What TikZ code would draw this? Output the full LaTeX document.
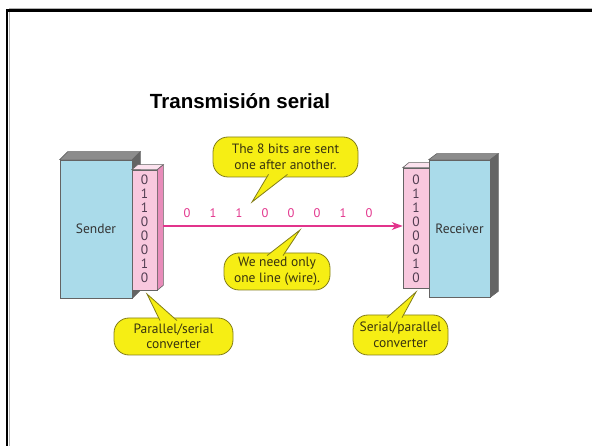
\documentclass[tikz,border=0pt]{standalone}
\usepackage{fontspec}
\setsansfont{PT Sans}
\newfontfamily\titlefont{Liberation Sans}
\usetikzlibrary{arrows.meta,calc}

\definecolor{boxblue}{RGB}{170,219,234}
\definecolor{shadegray}{RGB}{140,140,140}
\definecolor{sidegray}{RGB}{100,100,100}
\definecolor{convpink}{RGB}{248,200,222}
\definecolor{convside}{RGB}{232,140,186}
\definecolor{convtop}{RGB}{252,226,238}
\definecolor{wirepink}{RGB}{226,52,140}
\definecolor{noteyellow}{RGB}{246,238,20}
\definecolor{noteedge}{RGB}{130,125,25}
\definecolor{notetext}{RGB}{55,50,15}
\definecolor{digitgray}{RGB}{80,60,80}

\tikzset{
  unit/.style={fill=boxblue, draw=sidegray, line width=0.6pt, inner sep=0pt,
    font=\sffamily\fontsize{13.5}{15}\selectfont, text=black!80},
  conv/.style={fill=convpink, draw=sidegray, line width=0.6pt, inner sep=0pt,
    minimum height=120pt},
  note/.style={fill=noteyellow, draw=noteedge, line width=0.8pt, rounded corners=15pt,
    align=center, inner sep=0pt, text=notetext, font=\sffamily\fontsize{13.5}{15.5}\selectfont},
  tail/.style={draw=noteedge, line width=0.8pt},
  bit/.style={text=digitgray, font=\sffamily\fontsize{13.5}{13.5}\selectfont, inner sep=0pt},
  wirebit/.style={text=wirepink, font=\sffamily\fontsize{12.5}{12.5}\selectfont, inner sep=0pt},
}

\begin{document}
\begin{tikzpicture}[x=1pt,y=-1pt]
  \useasboundingbox (0,0) rectangle (592,446);

  % slide frame
  \draw[gray!60, line width=0.8pt] (9.3,460) -- (9.3,8) -- (600,8);
  \draw[line width=2.4pt] (7,460) -- (7,10.5) -- (600,10.5);

  \node (title) at (240,101) {\titlefont\bfseries\fontsize{20.5}{24}\selectfont Transmisión serial};

  % sender block
  \node[unit, minimum width=72pt, minimum height=138pt] (sender) at (96,229) {Sender};
  \filldraw[fill=shadegray, draw=sidegray, line width=0.6pt] (sender.north west) -- ++(8,-8)
    -- ([shift={(8,-8)}]sender.north east) -- (sender.north east) -- cycle;
  \filldraw[fill=sidegray, draw=sidegray, line width=0.6pt] (sender.north east) -- ++(8,-8)
    -- ([shift={(8,-8)}]sender.south east) -- (sender.south east) -- cycle;

  % parallel/serial converter
  \node[conv, minimum width=25pt] (pconv) at (144.5,230) {};
  \filldraw[fill=convtop, draw=sidegray, line width=0.6pt] (pconv.north west) -- ++(6,-5)
    -- ([shift={(6,-5)}]pconv.north east) -- (pconv.north east) -- cycle;
  \filldraw[fill=convside, draw=sidegray, line width=0.6pt] (pconv.north east) -- ++(6,-5)
    -- ([shift={(6,-5)}]pconv.south east) -- (pconv.south east) -- cycle;
  \foreach \b [count=\i from 0] in {0,1,1,0,0,0,1,0}
    \node[bit] (pbit\i) at (144.5,{180+14*\i}) {\b};

  % serial/parallel converter
  \node[conv, minimum width=26pt] (sconv) at (416,228) {};
  \filldraw[fill=convtop, draw=sidegray, line width=0.6pt] (sconv.north west) -- ++(6,-5)
    -- ([shift={(6,-5)}]sconv.north east) -- (sconv.north east) -- cycle;
  \foreach \b [count=\i from 0] in {0,1,1,0,0,0,1,0}
    \node[bit] (sbit\i) at (416,{180+14*\i}) {\b};

  % receiver block
  \node[unit, minimum width=61pt, minimum height=137pt] (receiver) at (459.5,228.5) {Receiver};
  \filldraw[fill=shadegray, draw=sidegray, line width=0.6pt] (receiver.north west) -- ++(8,-6)
    -- ([shift={(8,-6)}]receiver.north east) -- (receiver.north east) -- cycle;
  \filldraw[fill=sidegray, draw=sidegray, line width=0.6pt] (receiver.north east) -- ++(8,-6)
    -- ([shift={(8,-6)}]receiver.south east) -- (receiver.south east) -- cycle;

  % the line
  \coordinate (wirestart) at ([shift={(6,-4)}]pconv.east);
  \draw[wirepink, line width=1.5pt, -{Stealth[length=11pt,width=8pt]}]
    (wirestart) -- (sconv.west |- wirestart);
  \foreach \b [count=\i from 0] in {0,1,1,0,0,0,1,0}
    \node[wirebit] (wbit\i) at ({187+26*\i},213) {\b};

  % callouts
  \node[note, minimum width=145pt, minimum height=40pt] (sent) at (285.5,157)
    {The 8 bits are sent\\one after another.};
  \coordinate (senttip) at (252,202);
  \fill[noteyellow] ($(sent.south)+(-17,-3)$) -- (senttip) -- ($(sent.south)+(2,-3)$) -- cycle;
  \draw[tail] ($(sent.south)+(-17,-3)$) -- (senttip) -- ($(sent.south)+(2,-3)$);

  \node[note, minimum width=106pt, minimum height=37pt] (oneline) at (277,271.5)
    {We need only\\one line (wire).};
  \coordinate (onelinetip) at (300,230);
  \fill[noteyellow] ($(oneline.north)+(-10,3)$) -- (onelinetip) -- ($(oneline.north)+(6,3)$) -- cycle;
  \draw[tail] ($(oneline.north)+(-10,3)$) -- (onelinetip) -- ($(oneline.north)+(6,3)$);

  \node[note, minimum width=119pt, minimum height=37pt] (psnote) at (173.5,336.5)
    {Parallel/serial\\converter};
  \coordinate (pstip) at (147,294);
  \fill[noteyellow] ($(psnote.north)+(-13.5,3)$) -- (pstip) -- ($(psnote.north)+(3.5,3)$) -- cycle;
  \draw[tail] ($(psnote.north)+(-13.5,3)$) -- (pstip) -- ($(psnote.north)+(3.5,3)$);

  \node[note, minimum width=95pt, minimum height=40pt] (spnote) at (400.5,335)
    {Serial/parallel\\converter};
  \coordinate (sptip) at (416,292);
  \fill[noteyellow] ($(spnote.north)+(-13.5,3)$) -- (sptip) -- ($(spnote.north)+(1.5,3)$) -- cycle;
  \draw[tail] ($(spnote.north)+(-13.5,3)$) -- (sptip) -- ($(spnote.north)+(1.5,3)$);
\end{tikzpicture}
\end{document}
